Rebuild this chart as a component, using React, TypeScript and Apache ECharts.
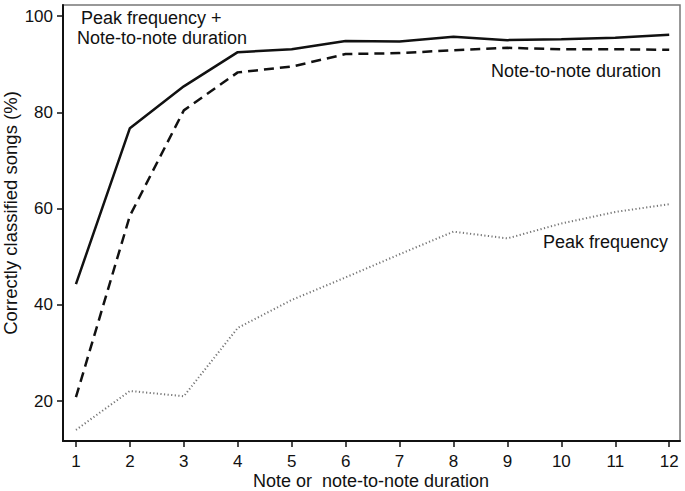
import React, { useEffect, useRef } from "react";
import * as echarts from "echarts";

const xValues = [1, 2, 3, 4, 5, 6, 7, 8, 9, 10, 11, 12];
const combined = [44.3, 76.7, 85.4, 92.5, 93.1, 94.8, 94.7, 95.7, 95.0, 95.2, 95.5, 96.1];
const noteToNote = [20.8, 58.5, 80.4, 88.3, 89.5, 92.1, 92.3, 92.9, 93.4, 93.1, 93.1, 93.0];
const peakFreq = [14.0, 22.1, 21.0, 35.2, 41.0, 45.7, 50.5, 55.2, 53.8, 56.9, 59.3, 60.9];
const yTicks = [20, 40, 60, 80, 100];

const FONT = "'Liberation Sans', Arial, Helvetica, sans-serif";

export default function App() {
  const ref = useRef<HTMLDivElement>(null);
  useEffect(() => {
    if (!ref.current) return;
    const chart = echarts.init(ref.current, undefined, { renderer: "svg" });
    const pts = (arr: number[]) => xValues.map((x, i) => [x, arr[i]]);
    chart.setOption({
      animation: false,
      backgroundColor: "#ffffff",
      textStyle: { fontFamily: FONT },
      grid: {
        left: 63,
        right: 5,
        top: 5,
        bottom: 50,
        outerBoundsMode: "none",
        containLabel: false,
        show: true,
        borderColor: "#777777",
        borderWidth: 1.5,
        backgroundColor: "transparent",
      },
      xAxis: {
        type: "value",
        min: 0.76,
        max: 12.2,
        axisLine: { show: true, lineStyle: { color: "#111", width: 2 } },
        axisTick: {
          show: true,
          length: 6,
          customValues: xValues,
          lineStyle: { color: "#111", width: 1.5 },
        },
        axisLabel: {
          customValues: xValues,
          fontSize: 17,
          color: "#111",
          margin: 12,
          fontFamily: FONT,
        },
        splitLine: { show: false },
      },
      yAxis: {
        type: "value",
        min: 11.7,
        max: 102.3,
        axisLine: { show: true, lineStyle: { color: "#111", width: 2 } },
        axisTick: {
          show: true,
          length: 6,
          customValues: yTicks,
          lineStyle: { color: "#111", width: 1.5 },
        },
        axisLabel: {
          customValues: yTicks,
          fontSize: 17,
          color: "#111",
          margin: 10,
          fontFamily: FONT,
        },
        splitLine: { show: false },
      },
      series: [
        {
          name: "Peak frequency + Note-to-note duration",
          type: "line",
          data: pts(combined),
          showSymbol: false,
          lineStyle: { color: "#111", width: 2.5, type: "solid" },
        },
        {
          name: "Note-to-note duration",
          type: "line",
          data: pts(noteToNote),
          showSymbol: false,
          lineStyle: { color: "#111", width: 2.5, type: [10, 6] },
        },
        {
          name: "Peak frequency",
          type: "line",
          data: pts(peakFreq),
          showSymbol: false,
          lineStyle: { color: "#777", width: 2, type: [1.2, 2.4] },
        },
      ],
      graphic: [
        {
          type: "text",
          x: 10,
          y: 213,
          rotation: Math.PI / 2,
          style: {
            text: "Correctly classified songs (%)",
            fontSize: 18.5,
            fill: "#111",
            fontFamily: FONT,
            align: "center",
            verticalAlign: "middle",
          },
        },
        {
          type: "text",
          x: 371,
          y: 481,
          style: {
            text: "Note or  note-to-note duration",
            fontSize: 18,
            fill: "#111",
            fontFamily: FONT,
            align: "center",
            verticalAlign: "middle",
          },
        },
        {
          type: "text",
          left: 81,
          top: 9,
          style: { text: "Peak frequency +", fontSize: 18, fill: "#111", fontFamily: FONT },
        },
        {
          type: "text",
          left: 77,
          top: 29,
          style: { text: "Note-to-note duration", fontSize: 18, fill: "#111", fontFamily: FONT },
        },
        {
          type: "text",
          right: 24,
          top: 62,
          style: { text: "Note-to-note duration", fontSize: 18, fill: "#111", fontFamily: FONT },
        },
        {
          type: "text",
          right: 17,
          top: 233,
          style: { text: "Peak frequency", fontSize: 18, fill: "#111", fontFamily: FONT },
        },
      ],
    });
    return () => chart.dispose();
  }, []);
  return <div ref={ref} style={{ width: 685, height: 491, position: "absolute", left: 0, top: 0 }} />;
}
